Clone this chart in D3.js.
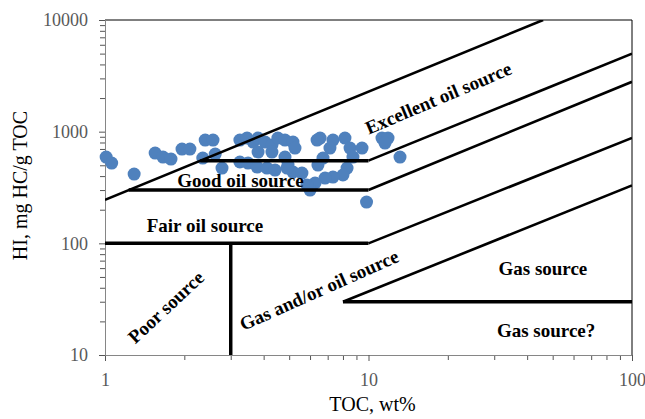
<!DOCTYPE html>
<html>
<head>
<meta charset="utf-8">
<script src="https://cdn.jsdelivr.net/npm/d3@7/dist/d3.min.js"></script>
<style>
  html, body { margin: 0; padding: 0; background: #fff; }
  svg { display: block; }
</style>
</head>
<body>
<svg id="chart" width="645" height="419"></svg>
<script>
// Kerogen quality plot: Hydrogen Index versus TOC (log-log)

// Sample measurements
const tocValues = [
  1.01, 1.06, 1.29, 1.55, 1.66, 1.78, 1.96, 2.10, 2.40, 2.57,
  2.35, 2.62, 2.78, 3.25, 3.46, 3.65, 3.81, 4.05, 4.30, 4.53,
  4.82, 5.17, 5.26, 3.81, 4.30, 4.82, 3.49, 3.78, 4.12, 4.42,
  4.95, 5.17, 3.25, 4.91, 6.55, 6.38, 7.33, 8.14, 7.14, 8.51,
  9.45, 8.73, 6.72, 6.43, 8.29, 8.00, 7.33, 6.84, 6.27, 6.00,
  5.84, 11.25, 11.86, 11.55, 13.17, 9.83, 5.59
];
const hiValues = [
  592, 523, 417, 643, 592, 568, 699, 699, 841, 841,
  580, 630, 472, 841, 876, 807, 876, 807, 759, 876,
  841, 807, 713, 657, 657, 592, 523, 482, 472, 453,
  502, 435, 535, 472, 876, 841, 841, 876, 713, 713,
  713, 592, 580, 502, 472, 409, 392, 384, 347, 300,
  333, 876, 876, 790, 592, 234, 426
];

// Classification boundaries, as polylines in (TOC, HI)
const boundaryTOC = [
  [1, 46],
  [2.3, 10, 100],
  [1.23, 10, 100],
  [1, 10, 100],
  [3, 3],
  [100, 8, 100]
];
const boundaryHI = [
  [245, 10000],
  [550, 550, 5000],
  [300, 300, 2800],
  [100, 100, 880],
  [10, 100],
  [30, 30, 330]
];

// Zone names
const zoneNames = [
  "Excellent oil source", "Good oil source", "Fair oil source",
  "Poor source", "Gas and/or oil source", "Gas source", "Gas source?"
];

// Axis ticks
const xTickValues = [1, 10, 100];
const yTickValues = [10, 100, 1000, 10000];

// ---- layout ----
const svg = d3.select("#chart");
const plotL = 105, plotR = 632, plotT = 20, plotB = 355;
const x = d3.scaleLog().domain([1, 100]).range([plotL, plotR]);
const y = d3.scaleLog().domain([10, 10000]).range([plotB, plotT]);

const serif = "'Liberation Serif', 'Times New Roman', serif";
const axisGrey = "#868686";
const labelGrey = "#595959";

// minor ticks for log axes
function minorTicks(scale) {
  const [a, b] = scale.domain();
  const out = [];
  for (let d = a; d < b; d *= 10) {
    for (let k = 2; k <= 9; k++) out.push(d * k);
  }
  return out;
}

// plot frame (top and right edges)
svg.append("line").attr("x1", plotL).attr("x2", plotR).attr("y1", plotT).attr("y2", plotT)
  .attr("stroke", "#000").attr("stroke-width", 1);
svg.append("line").attr("x1", plotR).attr("x2", plotR).attr("y1", plotT).attr("y2", plotB)
  .attr("stroke", "#000").attr("stroke-width", 1);

// x axis
const gx = svg.append("g").attr("transform", `translate(0,${plotB})`);
gx.append("g").call(d3.axisBottom(x).tickValues(minorTicks(x)).tickSize(5).tickFormat(""));
gx.append("g").call(d3.axisBottom(x).tickValues(xTickValues).tickSize(6).tickFormat(d3.format("d")).tickPadding(12));
gx.selectAll(".domain").attr("stroke", axisGrey);
gx.selectAll(".tick line").attr("stroke", "#555");
gx.selectAll("text").attr("font-family", serif).attr("font-size", 18).attr("fill", labelGrey);

// y axis
const gy = svg.append("g").attr("transform", `translate(${plotL},0)`);
gy.append("g").call(d3.axisLeft(y).tickValues(minorTicks(y)).tickSize(5).tickFormat(""));
gy.append("g").call(d3.axisLeft(y).tickValues(yTickValues).tickSize(6).tickFormat(d3.format("d")).tickPadding(11));
gy.selectAll(".domain").attr("stroke", axisGrey);
gy.selectAll(".tick line").attr("stroke", "#555");
gy.selectAll("text").attr("font-family", serif).attr("font-size", 18).attr("fill", labelGrey);

// axis titles
svg.append("text")
  .attr("x", (plotL + plotR) / 2 + 4).attr("y", 411)
  .attr("text-anchor", "middle")
  .attr("font-family", serif).attr("font-size", 20).attr("fill", "#000")
  .text("TOC, wt%");
svg.append("text")
  .attr("transform", `translate(27,${(plotT + plotB) / 2 - 2}) rotate(-90)`)
  .attr("text-anchor", "middle")
  .attr("font-family", serif).attr("font-size", 20).attr("fill", "#000")
  .text("HI, mg HC/g TOC");

// scatter points
const pts = tocValues.map((t, i) => ({ toc: t, hi: hiValues[i] }));
svg.append("g").selectAll("circle").data(pts).join("circle")
  .attr("cx", d => x(d.toc))
  .attr("cy", d => y(d.hi))
  .attr("r", 6.5)
  .attr("fill", "#4F81BD");

// boundary lines, clipped to the plot box
svg.append("clipPath").attr("id", "plotClip")
  .append("rect").attr("x", plotL).attr("y", plotT).attr("width", plotR - plotL).attr("height", plotB - plotT);
const line = d3.line().x(d => x(d[0])).y(d => y(d[1]));
const gb = svg.append("g").attr("clip-path", "url(#plotClip)");
boundaryTOC.forEach((xs, i) => {
  const p = xs.map((t, j) => [t, boundaryHI[i][j]]);
  for (let j = 0; j < p.length - 1; j++) {
    const a = p[j], b = p[j + 1];
    const straight = a[0] === b[0] || a[1] === b[1];
    gb.append("path")
      .attr("d", line([a, b]))
      .attr("fill", "none")
      .attr("stroke", "#000")
      .attr("stroke-width", straight ? 3.5 : 2.6)
      .attr("stroke-linecap", "butt");
  }
});

// zone labels, placed in data units
const zonePlace = [
  { toc: 18.4, hi: 2000, angle: -23, anchor: "middle" },
  { toc: 1.88, hi: 319, angle: 0, anchor: "start" },
  { toc: 1.44, hi: 126, angle: 0, anchor: "start" },
  { toc: 1.70, hi: 26.9, angle: -43, anchor: "middle" },
  { toc: 6.49, hi: 38.2, angle: -24, anchor: "middle" },
  { toc: 45.9, hi: 60.1, angle: 0, anchor: "middle" },
  { toc: 47.2, hi: 16.7, angle: 0, anchor: "middle" }
];
svg.append("g").selectAll("text").data(zoneNames).join("text")
  .attr("transform", (d, i) => `translate(${x(zonePlace[i].toc)},${y(zonePlace[i].hi)}) rotate(${zonePlace[i].angle})`)
  .attr("text-anchor", (d, i) => zonePlace[i].anchor)
  .attr("dy", (d, i) => zonePlace[i].anchor === "start" ? 0 : "0.35em")
  .attr("font-family", serif).attr("font-weight", "bold").attr("font-size", 19)
  .attr("fill", "#000")
  .text(d => d);
</script>
</body>
</html>
